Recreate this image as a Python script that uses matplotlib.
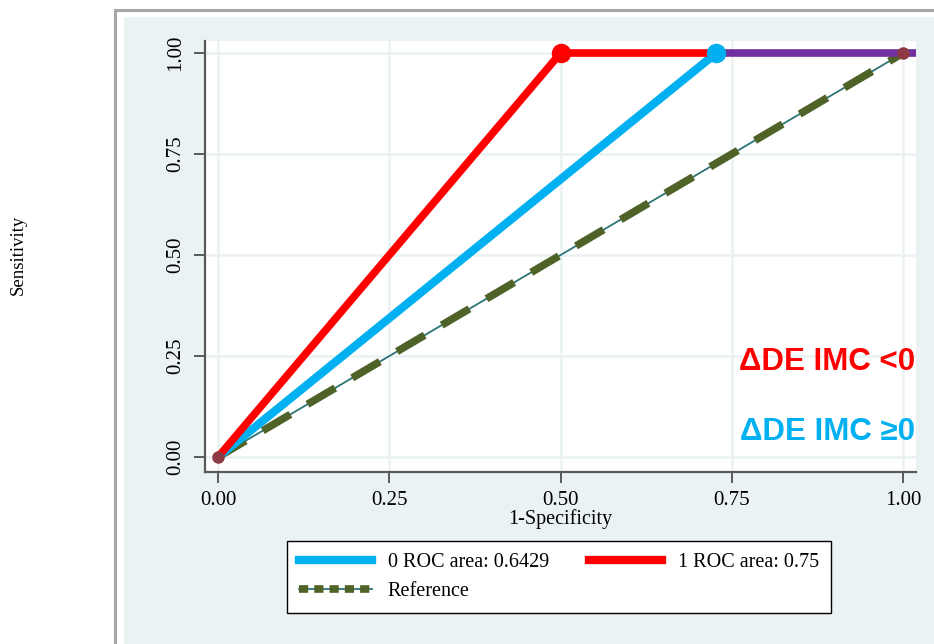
import matplotlib
matplotlib.use('Agg')
import matplotlib.pyplot as plt
import matplotlib as mpl
from matplotlib.lines import Line2D
from matplotlib.patches import Rectangle

BLUE = '#00B0F0'
RED = '#FF0000'
PURPLE = '#7030A0'
OLIVE = '#4F6228'
TEAL = '#2E7474'
DARKRED = '#8E3A44'
NAVY = '#1F4E79'
PANEL = '#EAF2F3'
GRID = '#EAF2F3'
SPINE = '#595959'

mpl.rcParams['font.family'] = 'Liberation Serif'

# Data
roc0_x = [0.0, 0.7273, 1.0]   # group 0 (ΔDE IMC >=0)
roc0_y = [0.0, 1.0, 1.0]
roc1_x = [0.0, 0.5, 1.0]      # group 1 (ΔDE IMC <0)
roc1_y = [0.0, 1.0, 1.0]
ref_x = [0.0, 1.0]
ref_y = [0.0, 1.0]
ticks = [0.0, 0.25, 0.5, 0.75, 1.0]
tick_labels = ['0.00', '0.25', '0.50', '0.75', '1.00']
legend_labels = ['0 ROC area: 0.6429', '1 ROC area: 0.75', 'Reference']

W, H = 934, 644
fig = plt.figure(figsize=(W / 100, H / 100), dpi=100)
fig.patch.set_facecolor('white')

# outer Stata-like panel
fig.patches.append(Rectangle((124 / W, 0), 1, (H - 17) / H, transform=fig.transFigure,
                             facecolor=PANEL, edgecolor='none', zorder=-10))
fig.lines.append(Line2D([115 / W, 115 / W], [0, (H - 10) / H], transform=fig.transFigure,
                        color='#A6A6A6', lw=2.2, zorder=-9))
fig.lines.append(Line2D([115 / W, 1], [(H - 10) / H, (H - 10) / H], transform=fig.transFigure,
                        color='#A6A6A6', lw=2.2, zorder=-9))

ax = fig.add_axes([205 / W, (H - 472) / H, (916 - 205) / W, (472 - 41) / H])
ax.set_facecolor('white')
ax.set_xlim(-0.019, 1.019)
ax.set_ylim(-0.037, 1.030)

for s in ['top', 'right']:
    ax.spines[s].set_visible(False)
for s in ['left', 'bottom']:
    ax.spines[s].set_color(SPINE)
    ax.spines[s].set_linewidth(1.6)

ax.set_xticks(ticks)
ax.set_xticklabels(tick_labels)
ax.set_yticks(ticks)
ax.set_yticklabels(tick_labels, rotation=90, va='center')
ax.tick_params(axis='both', labelsize=15, length=8, width=1.4, color=SPINE, labelcolor='black', pad=6)
ax.grid(True, color=GRID, lw=1.8)
ax.set_axisbelow(True)

# reference line
ax.plot(ref_x, ref_y, color=TEAL, lw=1.3, zorder=2)
ax.plot(ref_x, ref_y, color=OLIVE, lw=5.5, dashes=(4.2, 2.6), dash_capstyle='butt', zorder=2)

# ROC curves
ax.plot(roc0_x[:2], roc0_y[:2], color=BLUE, lw=6, solid_capstyle='butt', zorder=3)
ax.plot([roc0_x[1], roc0_x[2] + 0.019], roc0_y[1:], color=PURPLE, lw=5.5, solid_capstyle='butt',
        zorder=3, clip_on=False)
ax.plot(roc1_x[:2], roc1_y[:2], color=RED, lw=5.5, solid_capstyle='butt', zorder=4)
ax.plot([roc1_x[1], roc0_x[1]], roc1_y[1:], color=RED, lw=5.5, solid_capstyle='butt', zorder=4)

ax.plot([roc1_x[0], roc1_x[2]], [roc1_y[0], roc1_y[2]], ls='none', marker='o', ms=8,
        color=DARKRED, zorder=5)
ax.plot(roc1_x[1], roc1_y[1], marker='o', ms=13, color=RED, zorder=6)
ax.plot(roc0_x[1], roc0_y[1], marker='o', ms=13, color=BLUE, zorder=6)

# group labels
ax.text(1.0175, 0.215, 'ΔDE IMC <0', color=RED, fontsize=22.5, fontweight='bold',
        family='Liberation Sans', ha='right', va='baseline', zorder=7)
ax.text(1.0175, 0.042, 'ΔDE IMC ≥0', color=BLUE, fontsize=22.5, fontweight='bold',
        family='Liberation Sans', ha='right', va='baseline', zorder=7)

ax.set_xlabel('1-Specificity', fontsize=14.5, labelpad=-1)
fig.text(18 / W, 1 - 255 / H, 'Sensitivity', rotation=90, fontsize=13.5, ha='center', va='center')

# legend
h0 = (Line2D([], [], color=NAVY, lw=1.2),
      Line2D([], [], color=BLUE, lw=6))
h1 = (Line2D([], [], color=DARKRED, lw=1.2),
      Line2D([], [], color=RED, lw=6))
href = (Line2D([], [], color=TEAL, lw=1.3),
        Line2D([], [], color=OLIVE, lw=5.5, dashes=(1.2, 0.8)))
leg = fig.legend([h0, href, h1], [legend_labels[0], legend_labels[2], legend_labels[1]],
                 loc='upper left', bbox_to_anchor=(287 / W, (H - 541) / H), ncol=2,
                 fontsize=14.5, frameon=True, fancybox=False, framealpha=1, handlelength=3.6,
                 columnspacing=2.0, handletextpad=0.8, labelspacing=0.5,
                 borderpad=0.6, borderaxespad=0)
leg.get_frame().set_edgecolor('black')
leg.get_frame().set_linewidth(1.0)
leg.get_frame().set_facecolor('white')

fig.savefig('out.png', dpi=100)
